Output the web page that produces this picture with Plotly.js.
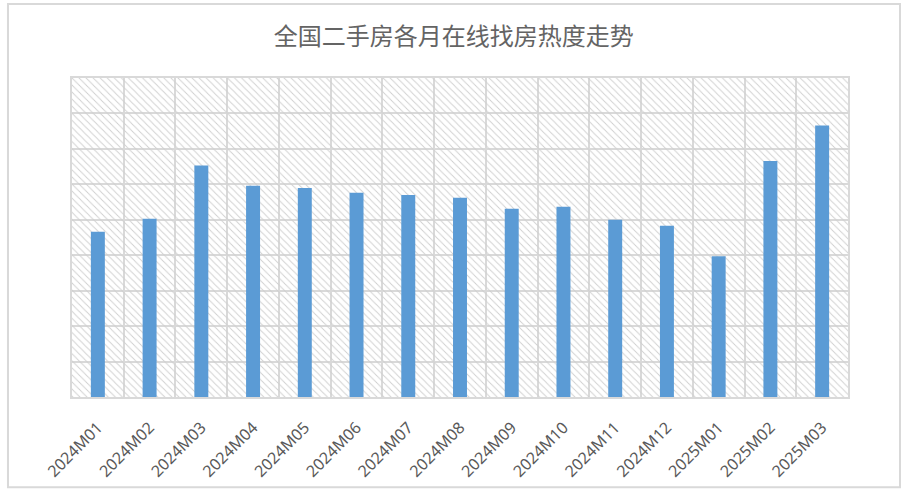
<!DOCTYPE html>
<html>
<head>
<meta charset="utf-8">
<script src="https://cdn.plot.ly/plotly-3.0.1.min.js"></script>
<style>
  html, body { margin: 0; padding: 0; background: white; }
  #chart { width: 904px; height: 493px; }
</style>
</head>
<body>
<div id="chart"></div>
<script>
// months on the x axis
const months = ['2024M01', '2024M02', '2024M03', '2024M04', '2024M05', '2024M06', '2024M07',
                '2024M08', '2024M09', '2024M10', '2024M11', '2024M12', '2025M01', '2025M02', '2025M03'];
// heat index (no scale given, grid units)
const heat = [4.66, 5.03, 6.53, 5.96, 5.90, 5.76, 5.70, 5.62, 5.31, 5.37, 5.00, 4.83, 3.97, 6.66, 7.66];
const yMax = 9;

const grey = '#d9d9d9';

// hatched plot background, one full-height tile per month
const hatch = {
    x: months,
    y: months.map(() => yMax),
    type: 'bar',
    width: 1,
    hoverinfo: 'skip',
    marker: {
        color: 'rgba(0,0,0,0)',
        line: { width: 0 },
        pattern: { shape: '\\', fgcolor: '#cfcfcf', size: 5, solidity: 0.18 }
    }
};

const bars = {
    x: months,
    y: heat,
    type: 'bar',
    width: 0.27,
    marker: { color: '#5b9bd5', line: { width: 0 } }
};

const layout = {
    width: 904,
    height: 493,
    margin: { l: 72, r: 56, t: 78, b: 95.5 },
    paper_bgcolor: 'white',
    plot_bgcolor: 'white',
    showlegend: false,
    barmode: 'overlay',
    title: {
        text: '全国二手房各月在线找房热度走势',
        font: { family: 'Noto Sans CJK SC', size: 24, color: '#646464' },
        x: 0.502, xanchor: 'center',
        yref: 'container', y: 0.925, yanchor: 'middle'
    },
    xaxis: {
        type: 'category',
        tickson: 'boundaries',
        ticks: '',
        tickangle: -45,
        ticklabelstandoff: 13,
        tickfont: { family: 'Noto Sans', size: 16, color: '#595959' },
        showgrid: true,
        gridcolor: grey,
        gridwidth: 2,
        showline: true,
        linecolor: grey,
        linewidth: 2,
        mirror: true,
        fixedrange: true
    },
    yaxis: {
        range: [0, yMax],
        dtick: 1,
        showticklabels: false,
        ticks: '',
        showgrid: true,
        gridcolor: grey,
        gridwidth: 2,
        zeroline: false,
        showline: true,
        linecolor: grey,
        linewidth: 2,
        mirror: true,
        fixedrange: true
    },
    shapes: [
        // outer chart frame
        { type: 'rect', xref: 'paper', yref: 'paper',
          x0: -0.0825, x1: 1.067, y0: -0.283, y1: 1.2316,
          line: { color: grey, width: 2 } }
    ]
};

Plotly.newPlot('chart', [hatch, bars], layout, { displayModeBar: false, staticPlot: true });
</script>
</body>
</html>
